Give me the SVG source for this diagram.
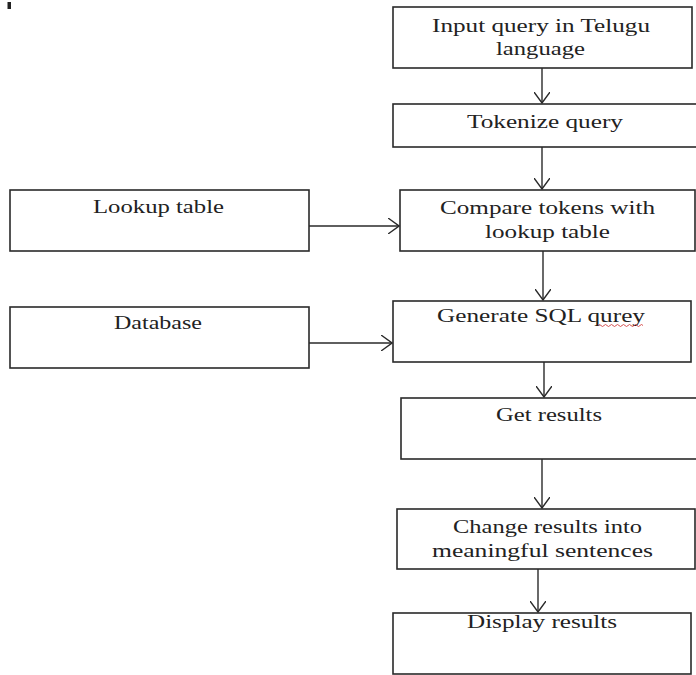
<svg xmlns="http://www.w3.org/2000/svg" width="696" height="675" viewBox="0 0 696 675">
<style>
.box{fill:#fff;stroke:#2a2a2a;stroke-width:1.6}
.t{font-family:"Liberation Serif","Times New Roman",serif;font-size:18px;fill:#222}
.c{stroke:#2a2a2a;stroke-width:1.4;fill:none}
</style>
<defs>
<marker id="ah" viewBox="0 0 12 16" refX="11" refY="8" markerWidth="12" markerHeight="16" markerUnits="userSpaceOnUse" orient="auto">
<path d="M0,0 L11,8 L0,16" fill="none" stroke="#2a2a2a" stroke-width="1.4"/>
</marker>
</defs>
<rect x="0" y="0" width="696" height="675" fill="#fff"/>
<rect x="7.5" y="2" width="3.5" height="7" fill="#222"/>
<g id="n1"><rect class="box" x="393" y="7" width="299" height="61"/>
<text class="t" x="432" y="32" textLength="218" lengthAdjust="spacingAndGlyphs">Input query in Telugu</text>
<text class="t" x="496" y="55" textLength="89" lengthAdjust="spacingAndGlyphs">language</text></g>
<g id="n2"><rect class="box" x="393" y="104" width="310" height="43"/>
<text class="t" x="467" y="128" textLength="156" lengthAdjust="spacingAndGlyphs">Tokenize  query</text></g>
<g id="lookup"><rect class="box" x="10" y="190" width="299" height="61"/>
<text class="t" x="93" y="213" textLength="131" lengthAdjust="spacingAndGlyphs">Lookup  table</text></g>
<g id="n3"><rect class="box" x="400" y="190" width="295" height="61"/>
<text class="t" x="440" y="214" textLength="215" lengthAdjust="spacingAndGlyphs">Compare tokens with</text>
<text class="t" x="485" y="238" textLength="125" lengthAdjust="spacingAndGlyphs">lookup table</text></g>
<g id="database"><rect class="box" x="10" y="307" width="299" height="61"/>
<text class="t" x="114" y="329" textLength="88" lengthAdjust="spacingAndGlyphs">Database</text></g>
<g id="n4"><rect class="box" x="393" y="301" width="298" height="61"/>
<text class="t" x="437" y="322" textLength="208" lengthAdjust="spacingAndGlyphs">Generate SQL qurey</text>
<path d="M598,325.5 q1.5,-2 3,0 t3,0 t3,0 t3,0 t3,0 t3,0 t3,0 t3,0 t3,0 t3,0 t3,0 t3,0 t3,0 t3,0 t3,0" fill="none" stroke="#d04040" stroke-width="0.9"/></g>
<g id="n5"><rect class="box" x="401" y="398" width="305" height="61"/>
<text class="t" x="496" y="421" textLength="106" lengthAdjust="spacingAndGlyphs">Get results</text></g>
<g id="n6"><rect class="box" x="397" y="509" width="298" height="60"/>
<text class="t" x="453" y="533" textLength="189" lengthAdjust="spacingAndGlyphs">Change results into</text>
<text class="t" x="432" y="557" textLength="221" lengthAdjust="spacingAndGlyphs">meaningful  sentences</text></g>
<g id="n7"><rect class="box" x="393" y="613" width="298" height="61"/>
<text class="t" x="467" y="628" textLength="150" lengthAdjust="spacingAndGlyphs">Display results</text></g>
<g id="connectors">
<line class="c" x1="542" y1="68" x2="542" y2="103" marker-end="url(#ah)"/>
<line class="c" x1="542" y1="147" x2="542" y2="189" marker-end="url(#ah)"/>
<line class="c" x1="543" y1="251" x2="543" y2="300" marker-end="url(#ah)"/>
<line class="c" x1="544" y1="362" x2="544" y2="397" marker-end="url(#ah)"/>
<line class="c" x1="542" y1="459" x2="542" y2="508" marker-end="url(#ah)"/>
<line class="c" x1="538" y1="569" x2="538" y2="612" marker-end="url(#ah)"/>
<line class="c" x1="309" y1="226" x2="399" y2="226" marker-end="url(#ah)"/>
<line class="c" x1="309" y1="343" x2="392" y2="343" marker-end="url(#ah)"/>
</g>
</svg>
